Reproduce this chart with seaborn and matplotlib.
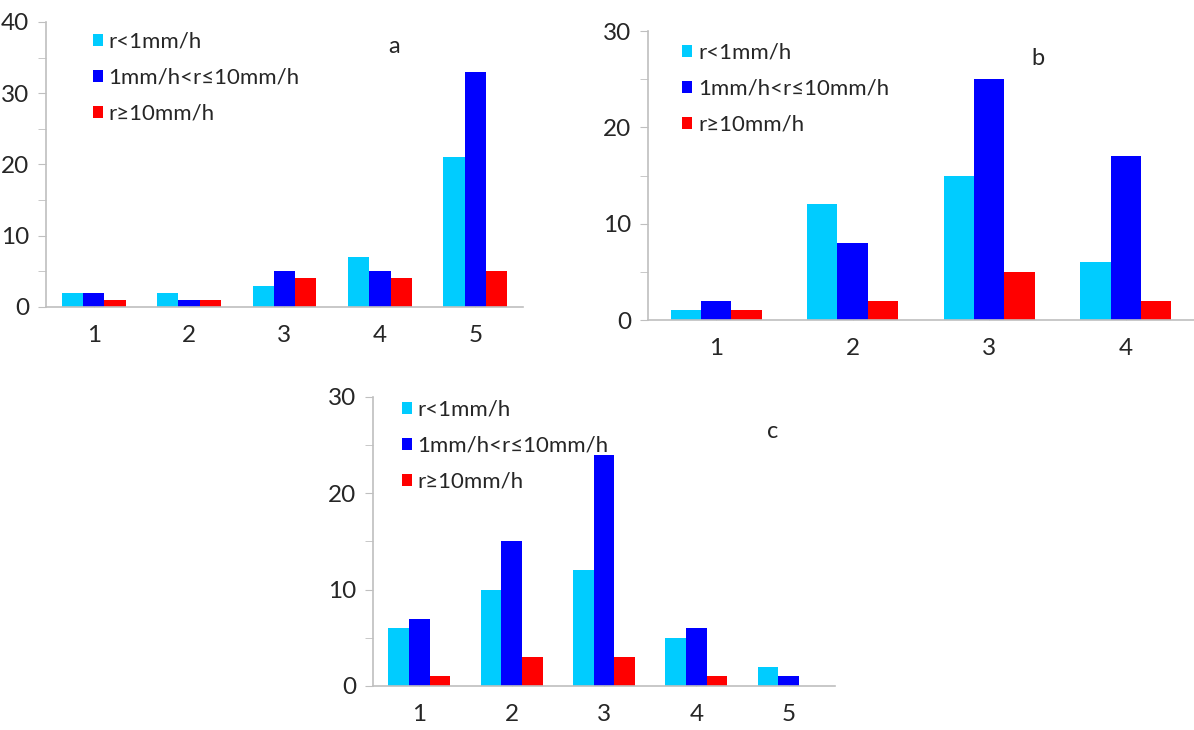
import pandas as pd
import seaborn as sns
from matplotlib import pyplot as plt
from matplotlib.ticker import MultipleLocator

# data
types = ["r<1mm/h", "1mm/h<r≤10mm/h", "r≥10mm/h"]
colors = ["#00CCFF", "#0000FF", "#FF0000"]

cats_a = ["1", "2", "3", "4", "5"]
a_light = [2, 2, 3, 7, 21]
a_mid = [2, 1, 5, 5, 33]
a_heavy = [1, 1, 4, 4, 5]

cats_b = ["1", "2", "3", "4"]
b_light = [1, 12, 15, 6]
b_mid = [2, 8, 25, 17]
b_heavy = [1, 2, 5, 2]

cats_c = ["1", "2", "3", "4", "5"]
c_light = [6, 10, 12, 5, 2]
c_mid = [7, 15, 24, 6, 1]
c_heavy = [1, 3, 3, 1, 0]

sns.set_style("white")
plt.rcParams["font.family"] = ["Lato", "DejaVu Sans"]

fig = plt.figure(figsize=(11.94, 7.3), dpi=100)
grey = "#BFBFBF"


def make_df(cats, light, mid, heavy):
    rows = []
    for vals, t in zip([light, mid, heavy], types):
        for c, v in zip(cats, vals):
            rows.append({"cat": c, "val": v, "type": t})
    return pd.DataFrame(rows)


def panel(rect, cats, light, mid, heavy, ymax, letter, letter_xy, leg_xy, xmax=None):
    ax = fig.add_axes(rect)
    df = make_df(cats, light, mid, heavy)
    sns.barplot(data=df, x="cat", y="val", hue="type", hue_order=types,
                palette=colors, width=0.67, saturation=1, linewidth=0, ax=ax)
    ax.set_ylim(0, ymax)
    ax.set_xlim(-0.5, xmax if xmax is not None else len(cats) - 0.5)
    ax.yaxis.set_major_locator(MultipleLocator(10))
    ax.yaxis.set_minor_locator(MultipleLocator(5))
    ax.set_xlabel("")
    ax.set_ylabel("")
    for s in ["top", "right"]:
        ax.spines[s].set_visible(False)
    for s in ["left", "bottom"]:
        ax.spines[s].set_color(grey)
        ax.spines[s].set_linewidth(1.2)
    ax.tick_params(axis="y", which="both", direction="out", color=grey,
                   left=True, labelsize=17.5, pad=6, length=6)
    ax.tick_params(axis="x", direction="in", length=4, color=grey,
                   bottom=True, labelsize=17.5, pad=13)
    ax.legend(loc="upper left", bbox_to_anchor=leg_xy, frameon=False,
              fontsize=16, handlelength=0.45, handleheight=0.45,
              handletextpad=0.25, labelspacing=0.72, borderpad=0,
              borderaxespad=0)
    ax.text(letter_xy[0], letter_xy[1], letter, transform=ax.transAxes,
            fontsize=17, ha="center", va="center")
    return ax


panel([0.0385, 0.5795, 0.3995, 0.3905], cats_a, a_light, a_mid, a_heavy,
      40, "a", (0.73, 0.915), (0.098, 0.965))
panel([0.5427, 0.5616, 0.4573, 0.3959], cats_b, b_light, b_mid, b_heavy,
      30, "b", (0.714, 0.905), (0.063, 0.96))
panel([0.3124, 0.0603, 0.3869, 0.3959], cats_c, c_light, c_mid, c_heavy,
      30, "c", (0.866, 0.88), (0.063, 0.99))

fig.savefig("out.png", dpi=100)
